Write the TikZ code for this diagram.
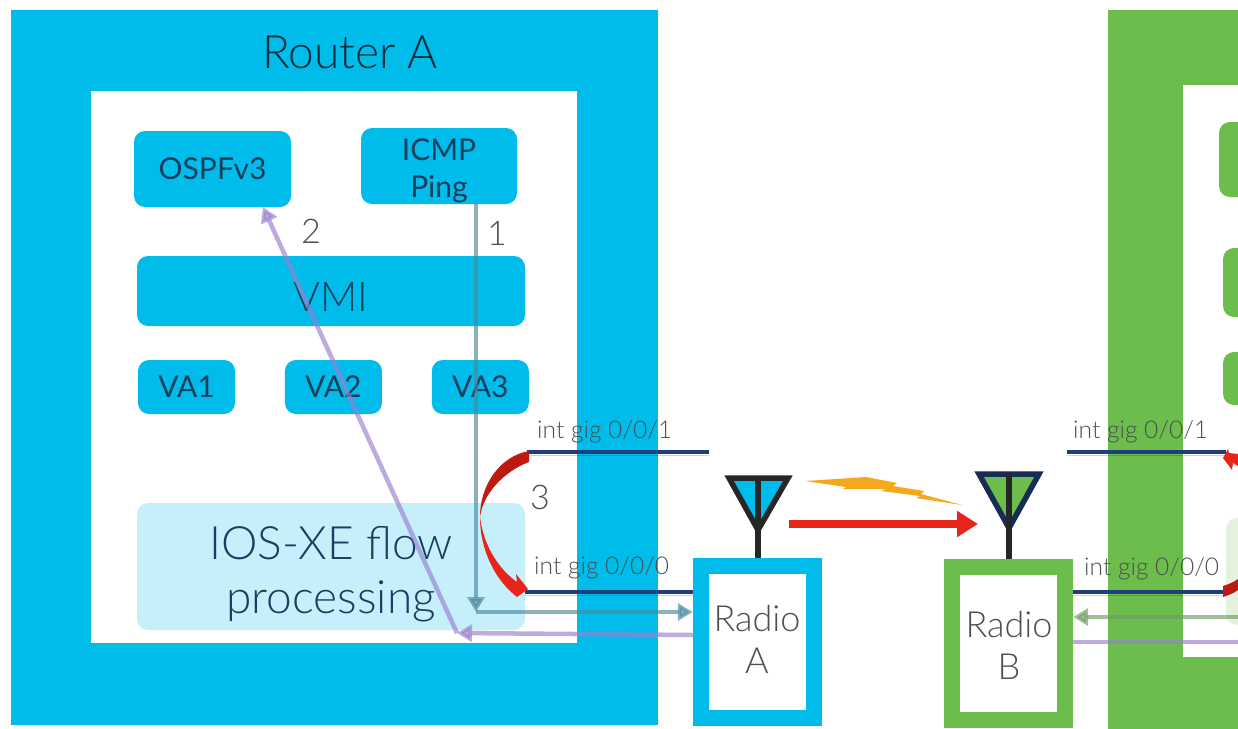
\documentclass[tikz,border=0pt]{standalone}
\usepackage{fontspec}
\setmainfont{Lato Light}
\newfontfamily\modulefont{Lato}
\usetikzlibrary{arrows.meta,positioning,calc}
\definecolor{ciscoblue}{HTML}{00BCEB}
\definecolor{ciscopale}{HTML}{C5EFFB}
\definecolor{ciscogreen}{HTML}{6CBD4B}
\definecolor{ciscopalegreen}{HTML}{E4F1DD}
\definecolor{navyline}{HTML}{1F3F7A}
\definecolor{flowred}{HTML}{E8251A}
\definecolor{flowdark}{HTML}{BE1A12}
\definecolor{flowteal}{HTML}{4A8A9C}
\definecolor{flowsage}{HTML}{6F9A66}
\definecolor{flowpurple}{HTML}{9A7FD0}
\definecolor{boltorange}{HTML}{F5A81C}
\definecolor{inkdark}{HTML}{17405F}
\definecolor{inkgrey}{HTML}{4A5054}

\begin{document}
\begin{tikzpicture}[
  x=1pt, y=-1pt,
  outerbox/.style={rectangle, draw=none, inner sep=0pt, fill=#1},
  innerbox/.style={rectangle, draw=none, inner sep=0pt, fill=white},
  module/.style={rectangle, rounded corners=11pt, inner sep=0pt, align=center, fill=#1, text=inkdark},
  module/.default=ciscoblue,
  small/.style={font=\modulefont\fontsize{30}{37}\selectfont},
  large/.style={font=\fontsize{46}{54}\selectfont},
  gig/.style={inner sep=0pt, text=inkgrey, font=\fontsize{24.5}{30}\selectfont},
  number/.style={inner sep=0pt, text=inkgrey, font=\fontsize{34}{40}\selectfont},
  radiotext/.style={inner sep=0pt, align=center, text=inkgrey, font=\fontsize{36}{42}\selectfont},
  link/.style={draw=navyline, line width=4.5pt,
    preaction={draw=black, opacity=.18, transform canvas={yshift=-3pt}}},
  antenna/.style={line width=5.5pt, line join=miter},
  stem/.style={line width=6pt, draw=black!85},
  flow/.style={line width=4.5pt, opacity=.65, -{Triangle[length=15pt, width=17pt]}},
  plain/.style={line width=4.5pt, opacity=.65},
  radiolink/.style={line width=8pt, draw=flowred, -{Triangle[length=21pt, width=25pt]}}
]
  \useasboundingbox (0,0) rectangle (1238,728);
  \clip (0,0) rectangle (1238,728);

  % router A
  \node (routerA) [outerbox=ciscoblue, minimum width=647pt, minimum height=715pt] at (334.5,367.5) {};
  \node (insideA) [innerbox, minimum width=486pt, minimum height=552pt] at (334,367) {};
  \node (titleA) [inner sep=0pt, text=black!75!ciscoblue, font=\fontsize{46}{54}\selectfont] at (350,52) {Router A};
  \node (ospf) [module, small, minimum width=157pt, minimum height=76pt] at (212.5,169) {OSPFv3};
  \node (icmp) [module, small, minimum width=156pt, minimum height=76pt] at (439,166) {\raisebox{-5pt}[22pt][6pt]{ICMP}\\\raisebox{-5pt}[22pt][6pt]{Ping}};
  \node (vmi) [module, font=\fontsize{41}{54}\selectfont, minimum width=388pt, minimum height=70pt] at (331,291) {\raisebox{-5pt}[30pt][0pt]{VMI}};
  \node (vaone) [module, small, minimum width=97pt, minimum height=54pt] at (186.5,387) {VA1};
  \node (vatwo) [module, small, minimum width=97pt, minimum height=54pt, right=49.5pt of vaone] {VA2};
  \node (vathree) [module, small, minimum width=97pt, minimum height=54pt, right=49.5pt of vatwo] {VA3};
  \node (iosxe) [module=ciscopale, large, minimum width=388pt, minimum height=127pt] at (331,566.5) {\raisebox{-8pt}[34pt][10pt]{IOS-XE flow}\\\raisebox{-8pt}[34pt][10pt]{processing}};

  % router B
  \node (routerB) [outerbox=ciscogreen, minimum width=150pt, minimum height=730pt] at (1183,375) {};
  \node (insideB) [innerbox, minimum width=80pt, minimum height=572pt] at (1223,371) {};
  \node (upperB) [module=ciscogreen, minimum width=40pt, minimum height=75pt] at (1239,159.5) {};
  \node (vmiB) [module=ciscogreen, minimum width=32pt, minimum height=69pt] at (1239,282.5) {};
  \node (vaB) [module=ciscogreen, minimum width=32pt, minimum height=53pt] at (1239,378.5) {};
  \node (iosxeB) [module=ciscopalegreen, minimum width=28pt, minimum height=107pt] at (1240,571.5) {};

  % radios
  \node (radioA) [outerbox=ciscoblue, minimum width=129pt, minimum height=168pt] at (757.5,642) {};
  \node (radioinA) [innerbox, minimum width=97pt, minimum height=136pt] at (757.5,642) {};
  \node (labelA) [radiotext] at (757,639) {Radio\\A};
  \node (radioB) [outerbox=ciscogreen, minimum width=129pt, minimum height=169pt] at (1008.5,643.5) {};
  \node (radioinB) [innerbox, minimum width=97pt, minimum height=137pt] at (1008.5,643.5) {};
  \node (labelB) [radiotext] at (1009,645) {Radio\\B};

  % antennas
  \coordinate (apexA) at (758,530);
  \coordinate (apexB) at (1009,528);
  \filldraw [antenna, fill=ciscoblue, draw=black!85] (729,478) -- (788,478) -- (apexA) -- cycle;
  \draw [stem] (758,478) -- (radioA.north -| apexA);
  \filldraw [antenna, fill=ciscogreen, draw=navyline!70!black] (979,474) -- (1039,474) -- (apexB) -- cycle;
  \draw [stem] (1009,474) -- (radioB.north -| apexB);

  % bolt and radio link
  \fill [boltorange] (805,481) -- (866,477) -- (897,483) -- (893,486) -- (924,491) -- (921,494)
    -- (962,505) -- (916,498) -- (920,496) -- (881,491) -- (886,489) -- (843,489) -- (846,487) -- cycle;
  \coordinate (beamA) at (789,524);
  \coordinate (beamB) at (978,524);
  \draw [radiolink] (beamA) -- (beamB);

  % interfaces
  \coordinate (gigoneA) at (527,452);
  \coordinate (gigoneAend) at (709,452);
  \coordinate (gigzeroA) at (525,592);
  \coordinate (gigoneB) at (1067,452);
  \coordinate (gigoneBend) at (1226,452);
  \coordinate (gigzeroB) at (1226,592);
  \draw [link] (gigoneA) -- (gigoneAend);
  \draw [link] (gigzeroA) -- (radioA.west |- gigzeroA);
  \draw [link] (gigoneB) -- (gigoneBend);
  \draw [link] (radioB.east |- gigzeroB) -- (gigzeroB);
  \node (gigtextA) [gig, anchor=base west] at (537,438) {int gig 0/0/1};
  \node (gigtextAa) [gig, anchor=base west] at (534,574) {int gig 0/0/0};
  \node (gigtextB) [gig, anchor=base west] at (1073,438) {int gig 0/0/1};
  \node (gigtextBa) [gig, anchor=base west] at (1084,575) {int gig 0/0/0};

  % hairpin of router A
  \fill [flowdark] (529,451) .. controls (500,456) and (480,485) .. (480,517)
    .. controls (483,493) and (505,471) .. (529,462) -- cycle;
  \fill [flowred] (480,517) .. controls (480,550) and (495,580) .. (517,597) -- (528,589) -- (516,574)
    -- (517,582) .. controls (500,570) and (484,548) .. (480,517) -- cycle;

  % hairpin of router B
  \fill [flowred] (1223,458) -- (1228,449) -- (1229,453) -- (1238,454) -- (1238,466) -- (1233,463) -- (1232,470) -- cycle;
  \fill [flowdark] (1223,586) .. controls (1229,584) and (1234,582) .. (1238,579) -- (1238,590) .. controls (1234,593) and (1229,595) .. (1223,597) -- cycle;

  % flows
  \coordinate (turnteal) at (476,612);
  \coordinate (turnpurple) at (457,633);
  \coordinate (leftB) at (1238,617);
  \coordinate (purpleB) at (1238,642);
  \draw [flow, flowteal] (icmp.south -| turnteal) -- (turnteal);
  \draw [flow, flowteal] (turnteal) -- (radioA.west |- turnteal);
  \draw [flow, flowpurple] (radioA.west |- 0,635) -- (turnpurple);
  \draw [flow, flowpurple] (turnpurple) -- (263,207);
  \draw [flow, flowsage] (leftB) -- (radioB.east |- leftB);
  \draw [plain, flowpurple] (radioB.east |- purpleB) -- (purpleB);

  \node (numone) [number] at (497,233) {1};
  \node (numtwo) [number] at (311,231) {2};
  \node (numthree) [number] at (540,497) {3};
\end{tikzpicture}
\end{document}
